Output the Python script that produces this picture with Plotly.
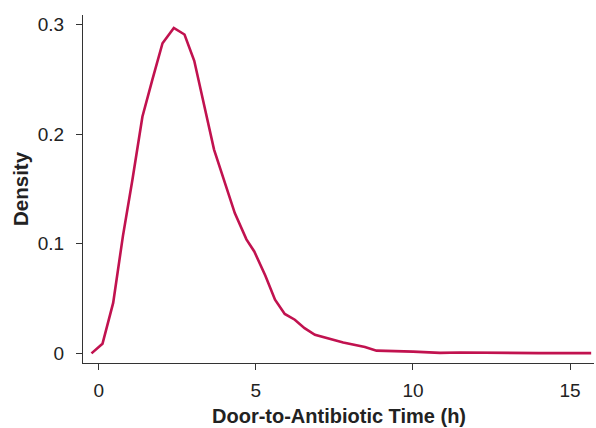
import plotly.graph_objects as go

# Density curve (hours, density)
time_h = [-0.23, 0.12, 0.46, 0.77, 1.07, 1.39, 1.71, 2.03, 2.39, 2.73, 3.04,
          3.67, 4.33, 4.70, 4.95, 5.30, 5.61, 5.92, 6.24, 6.55, 6.88, 7.78,
          8.47, 8.84, 10.0, 10.86, 11.5, 12.5, 13.0, 14.0, 15.67]
density = [0.0, 0.0088, 0.046, 0.107, 0.158, 0.216, 0.250, 0.283, 0.297,
           0.291, 0.267, 0.186, 0.128, 0.104, 0.093, 0.071, 0.049, 0.036,
           0.0307, 0.023, 0.017, 0.010, 0.0058, 0.0025, 0.0016, 0.0004,
           0.0008, 0.0004, 0.0002, 0.0002, 0.0002]

x_ticks = [0, 5, 10, 15]
y_ticks = [0, 0.1, 0.2, 0.3]
y_tick_text = ['0', '0.1', '0.2', '0.3']

LINE_COLOR = '#C1124F'
AXIS_COLOR = '#333333'
TEXT_COLOR = '#222222'
FONT = 'Liberation Sans, Arial, sans-serif'

fig = go.Figure()
fig.add_trace(go.Scatter(
    x=time_h, y=density,
    mode='lines',
    line=dict(color=LINE_COLOR, width=2.6),
    hoverinfo='x+y',
))

axis_common = dict(
    showgrid=False, zeroline=False,
    showline=True, linecolor=AXIS_COLOR, linewidth=1.3,
    ticks='outside', ticklen=6, tickwidth=1.3, tickcolor=AXIS_COLOR,
    tickfont=dict(family=FONT, size=19, color=TEXT_COLOR),
)

fig.update_layout(
    width=596, height=428,
    paper_bgcolor='white', plot_bgcolor='white',
    margin=dict(l=83, r=2, t=15, b=65),
    showlegend=False,
    xaxis=dict(range=[-0.5, 15.76], tickvals=x_ticks, ticklabelstandoff=4,
               **axis_common),
    yaxis=dict(range=[-0.0088, 0.3088], tickvals=y_ticks, ticktext=y_tick_text,
               ticklabelstandoff=8, **axis_common),
    annotations=[
        dict(text='<b>Door-to-Antibiotic Time (h)</b>', xref='paper', yref='paper',
             x=0.5, y=0, yshift=-53, showarrow=False, xanchor='center',
             yanchor='middle', font=dict(family=FONT, size=20, color=TEXT_COLOR)),
        dict(text='<b>Density</b>', xref='paper', yref='paper',
             x=0, xshift=-63, y=0.5, showarrow=False, textangle=-90,
             xanchor='center', yanchor='middle',
             font=dict(family=FONT, size=20.5, color=TEXT_COLOR)),
    ],
)

# drop the browser's default body margin so the figure sits at the page corner
fig.write_html('out.html', config={'displayModeBar': False},
               post_script="document.body.style.margin='0';document.body.style.overflow='hidden';")
